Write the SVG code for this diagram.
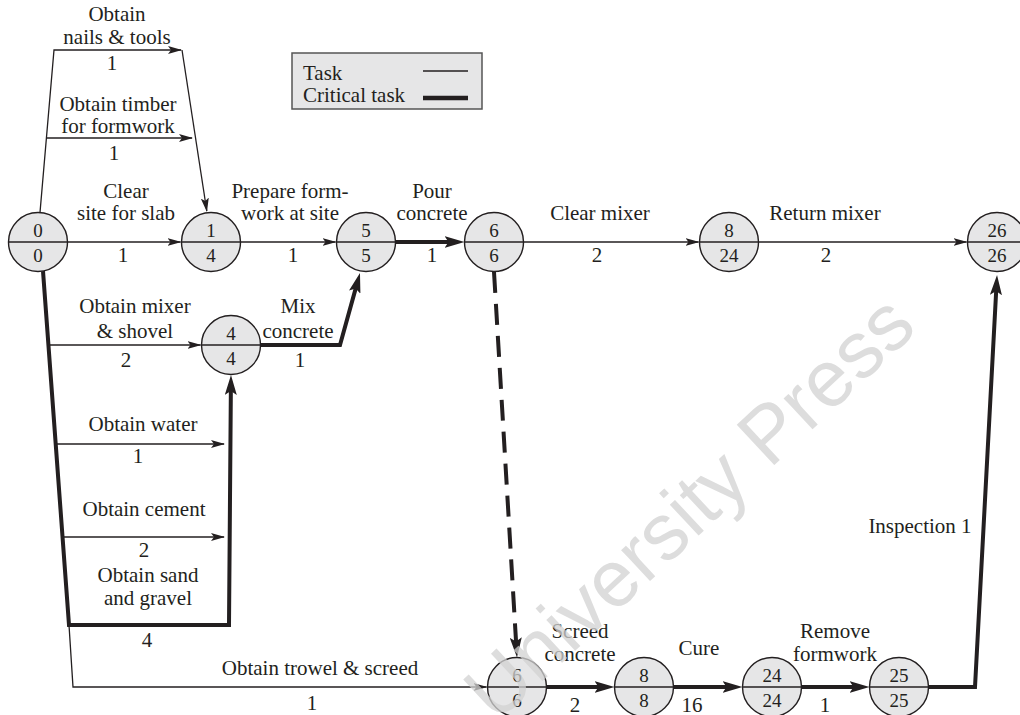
<svg xmlns="http://www.w3.org/2000/svg" width="1020" height="715" viewBox="0 0 1020 715">
<style>
.thin{fill:none;stroke:#231f20;stroke-width:1.3}
.thick{fill:none;stroke:#231f20;stroke-width:4;stroke-linejoin:miter}
.dash{stroke-dasharray:21 11}
.node circle{fill:#e6e6e7;stroke:#231f20;stroke-width:1.4}
.node line{stroke:#231f20;stroke-width:1.3}
text{font-family:"Liberation Serif","Times New Roman",Tinos,serif;font-size:21px;fill:#231f20;text-anchor:middle}
.node text{font-size:19px}
.lg{text-anchor:start}
.wm{font-family:"Liberation Sans",Arial,sans-serif;font-size:80px;fill:#d2d2d2;text-anchor:end}
</style>
<defs>
<marker id="ah" markerUnits="userSpaceOnUse" viewBox="0 0 14 8" markerWidth="14" markerHeight="8" refX="13" refY="4" orient="auto"><path d="M0,0 L14,4 L0,8 L3,4 Z" fill="#231f20"/></marker>
<marker id="ahk" markerUnits="userSpaceOnUse" viewBox="0 0 20 12" markerWidth="20" markerHeight="12" refX="10" refY="6" orient="auto"><path d="M0,0 L20,6 L0,12 L4,6 Z" fill="#231f20"/></marker>
</defs>
<rect width="1020" height="715" fill="#ffffff"/>

<g id="legend">
<rect x="292" y="53" width="190" height="56" fill="#e6e6e7" stroke="#555" stroke-width="1.5"/>
<text class="lg" x="303" y="80">Task</text>
<text class="lg" x="303" y="102">Critical task</text>
<path class="thin" d="M423,71 H468"/>
<path class="thick" d="M423,98 H468" style="stroke-width:4.5"/>
</g>

<g id="connectors">
<path class="thin" d="M67.5,242 H180.5" marker-end="url(#ah)"/>
<path class="thin" d="M40,212.5 L54,50 H181" marker-end="url(#ah)"/>
<path class="thin" d="M182,50 L206.8,211" marker-end="url(#ah)"/>
<path class="thin" d="M46.5,138 H192" marker-end="url(#ah)"/>
<path class="thin" d="M240.5,242 H335.5" marker-end="url(#ah)"/>
<path class="thick" d="M395.5,242 H454.5" marker-end="url(#ahk)"/>
<path class="thin" d="M523.5,242 H698.5" marker-end="url(#ah)"/>
<path class="thin" d="M758.5,242 H966.5" marker-end="url(#ah)"/>
<path class="thin" d="M48.5,345 H200.5" marker-end="url(#ah)"/>
<path class="thin" d="M56,444 H224" marker-end="url(#ah)"/>
<path class="thin" d="M62.5,537 H224" marker-end="url(#ah)"/>
<path class="thin" d="M69,625 L73,687 H486.5" marker-end="url(#ah)"/>
<path class="thick" d="M43,271 L69,625 H229 L230.9,385" marker-end="url(#ahk)"/>
<path class="thick" d="M260.5,345 H340 L357.3,282.6" marker-end="url(#ahk)"/>
<path class="thick dash" d="M494,272 L516.4,647.5" marker-end="url(#ahk)"/>
<path class="thick" d="M546.5,687 H604.5" marker-end="url(#ahk)"/>
<path class="thick" d="M673.5,687 H732.5" marker-end="url(#ahk)"/>
<path class="thick" d="M801.5,687 H859.5" marker-end="url(#ahk)"/>
<path class="thick" d="M928.5,687 H975 L996.5,285" marker-end="url(#ahk)"/>
</g>

<g id="labels">
<text x="117" y="21">Obtain</text>
<text x="117" y="44">nails &amp; tools</text>
<text x="112" y="70">1</text>
<text x="118" y="111">Obtain timber</text>
<text x="118" y="133">for formwork</text>
<text x="114" y="160">1</text>
<text x="126" y="198">Clear</text>
<text x="126" y="220">site for slab</text>
<text x="123" y="262">1</text>
<text x="290" y="198">Prepare form-</text>
<text x="290" y="220">work at site</text>
<text x="293" y="262">1</text>
<text x="432" y="198">Pour</text>
<text x="432" y="220">concrete</text>
<text x="432" y="262">1</text>
<text x="600" y="220">Clear mixer</text>
<text x="597" y="262">2</text>
<text x="825" y="220">Return mixer</text>
<text x="826" y="262">2</text>
<text x="135" y="313">Obtain mixer</text>
<text x="135" y="338">&amp; shovel</text>
<text x="126" y="367">2</text>
<text x="298" y="313">Mix</text>
<text x="298" y="338">concrete</text>
<text x="300" y="367">1</text>
<text x="143" y="431">Obtain water</text>
<text x="138" y="463">1</text>
<text x="144" y="516">Obtain cement</text>
<text x="144" y="557">2</text>
<text x="148" y="582">Obtain sand</text>
<text x="148" y="605">and gravel</text>
<text x="147" y="647">4</text>
<text x="320" y="675">Obtain trowel &amp; screed</text>
<text x="312" y="710">1</text>
<text x="580" y="638">Screed</text>
<text x="580" y="661">concrete</text>
<text x="575" y="712">2</text>
<text x="699" y="655">Cure</text>
<text x="692" y="712">16</text>
<text x="835" y="638">Remove</text>
<text x="835" y="661">formwork</text>
<text x="825" y="712">1</text>
<text x="920" y="533">Inspection 1</text>
</g>

<g id="n0" class="node"><circle cx="38" cy="242" r="29.5"/><line x1="8.5" y1="242" x2="67.5" y2="242"/><text x="38" y="237">0</text><text x="38" y="261.5">0</text></g>
<g id="n1" class="node"><circle cx="211" cy="242" r="29.5"/><line x1="181.5" y1="242" x2="240.5" y2="242"/><text x="211" y="237">1</text><text x="211" y="261.5">4</text></g>
<g id="n5" class="node"><circle cx="366" cy="242" r="29.5"/><line x1="336.5" y1="242" x2="395.5" y2="242"/><text x="366" y="237">5</text><text x="366" y="261.5">5</text></g>
<g id="n6a" class="node"><circle cx="494" cy="242" r="29.5"/><line x1="464.5" y1="242" x2="523.5" y2="242"/><text x="494" y="237">6</text><text x="494" y="261.5">6</text></g>
<g id="n8a" class="node"><circle cx="729" cy="242" r="29.5"/><line x1="699.5" y1="242" x2="758.5" y2="242"/><text x="729" y="237">8</text><text x="729" y="261.5">24</text></g>
<g id="n26" class="node"><circle cx="997" cy="242" r="29.5"/><line x1="967.5" y1="242" x2="1026.5" y2="242"/><text x="997" y="237">26</text><text x="997" y="261.5">26</text></g>
<g id="n4" class="node"><circle cx="231" cy="345" r="29.5"/><line x1="201.5" y1="345" x2="260.5" y2="345"/><text x="231" y="340">4</text><text x="231" y="364.5">4</text></g>
<g id="n6b" class="node"><circle cx="517" cy="687" r="29.5"/><line x1="487.5" y1="687" x2="546.5" y2="687"/><text x="517" y="682">6</text><text x="517" y="706.5">6</text></g>
<g id="n8b" class="node"><circle cx="644" cy="687" r="29.5"/><line x1="614.5" y1="687" x2="673.5" y2="687"/><text x="644" y="682">8</text><text x="644" y="706.5">8</text></g>
<g id="n24" class="node"><circle cx="772" cy="687" r="29.5"/><line x1="742.5" y1="687" x2="801.5" y2="687"/><text x="772" y="682">24</text><text x="772" y="706.5">24</text></g>
<g id="n25" class="node"><circle cx="899" cy="687" r="29.5"/><line x1="869.5" y1="687" x2="928.5" y2="687"/><text x="899" y="682">25</text><text x="899" y="706.5">25</text></g>

<text class="wm" transform="rotate(-43 919 330)" x="919" y="330" opacity="0.75">University Press</text>
</svg>
